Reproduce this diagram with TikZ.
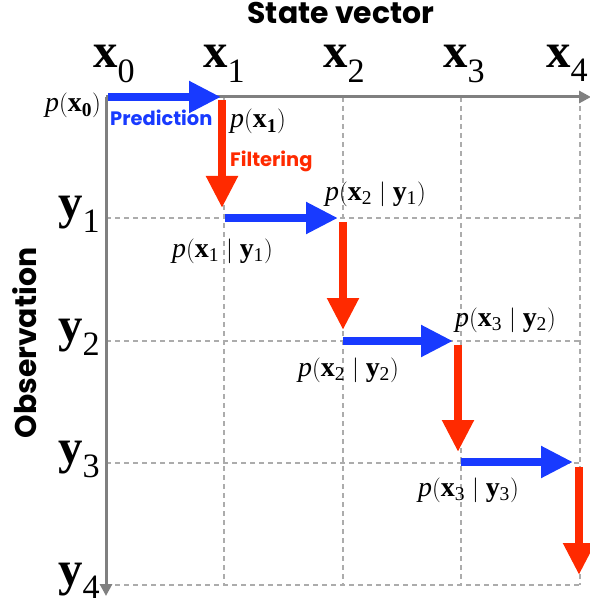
\documentclass[tikz,border=0pt]{standalone}
\usepackage{fontspec}
\setmainfont{Liberation Serif}
\setsansfont{Poppins}
\usetikzlibrary{arrows.meta}
\definecolor{predblue}{RGB}{24,58,255}
\definecolor{filtred}{RGB}{255,42,0}
\definecolor{axisgray}{RGB}{128,128,128}
\definecolor{gridgray}{RGB}{172,172,172}
\newcommand{\vx}[1]{\mathbf{x}_{\mathrm{#1}}}
\newcommand{\vy}[1]{\mathbf{y}_{\mathrm{#1}}}
\newcommand{\cnd}{\mid}
\begin{document}
\begin{tikzpicture}[x=1bp,y=-1bp,
  axisline/.style={draw=axisgray, line width=3bp, -{Triangle[length=12bp,width=12bp]}},
  gridline/.style={draw=gridgray, line width=1.6bp, dash pattern=on 5bp off 4bp},
  predarrow/.style={draw=predblue, line width=8bp, -{Triangle[length=32bp,width=30bp]}},
  filtarrow/.style={draw=filtred, line width=8bp, -{Triangle[length=32bp,width=30bp]}},
  bigmath/.style={font=\fontsize{49}{49}\selectfont, inner sep=0pt, anchor=base west},
  plabel/.style={font=\fontsize{28}{28}\selectfont, inner sep=0pt, anchor=base west},
  sanslabel/.style={font=\sffamily\bfseries\fontsize{19.5}{19.5}\selectfont, inner sep=0pt, anchor=base west},
  titlelabel/.style={font=\sffamily\bfseries\fontsize{30}{30}\selectfont, inner sep=0pt}]
\useasboundingbox (0,0) rectangle (590,610);
% grid coordinates
\coordinate (o) at (106,97);
\coordinate (xend) at (591,97);
\coordinate (yend) at (106,596);
\foreach \i/\xx in {1/224,2/343,3/461,4/580}{
  \coordinate (ct\i) at (\xx,97);
  \coordinate (cb\i) at (\xx,585);
}
\foreach \j/\yy in {1/218,2/341,3/463,4/585}{
  \coordinate (rl\j) at (106,\yy);
  \coordinate (rr\j) at (580,\yy);
}
% dashed grid
\foreach \i in {1,2,3,4}{
  \draw[gridline] (ct\i) -- (cb\i);
  \draw[gridline] (rl\i) -- (rr\i);
}
\draw[gridline] (o) -- (rl4);
% axes
\draw[axisline] (o) -- (xend);
\draw[axisline] (o) -- (yend);
% arrow end points
\coordinate (b1s) at (108,97);  \coordinate (b1e) at (221,97);
\coordinate (r1s) at (222,100); \coordinate (r1e) at (222,208);
\coordinate (b2s) at (225,218); \coordinate (b2e) at (338,218);
\coordinate (r2s) at (343,222); \coordinate (r2e) at (343,330);
\coordinate (b3s) at (343,341); \coordinate (b3e) at (453,341);
\coordinate (r3s) at (458,345); \coordinate (r3e) at (458,452);
\coordinate (b4s) at (461,462); \coordinate (b4e) at (573,462);
\coordinate (r4s) at (579,467); \coordinate (r4e) at (579,575);
\draw[predarrow] (b1s) -- (b1e);
\draw[filtarrow] (r1s) -- (r1e);
\draw[predarrow] (b2s) -- (b2e);
\draw[filtarrow] (r2s) -- (r2e);
\draw[predarrow] (b3s) -- (b3e);
\draw[filtarrow] (r3s) -- (r3e);
\draw[predarrow] (b4s) -- (b4e);
\draw[filtarrow] (r4s) -- (r4e);
% titles
\node[titlelabel, anchor=base] (title) at (341,24) {State vector};
\node[titlelabel, rotate=90, anchor=center] (obs) at (25,343) {Observation};
% state labels
\node[bigmath] (x0) at (93,68) {$\vx{0}$};
\node[bigmath] (x1) at (203,68) {$\vx{1}$};
\node[bigmath] (x2) at (323,68) {$\vx{2}$};
\node[bigmath] (x3) at (443,68) {$\vx{3}$};
\node[bigmath] (x4) at (546,68) {$\vx{4}$};
% observation labels
\node[bigmath] (y1) at (58,218) {$\vy{1}$};
\node[bigmath] (y2) at (58,341) {$\vy{2}$};
\node[bigmath] (y3) at (58,463) {$\vy{3}$};
\node[bigmath] (y4) at (58,585) {$\vy{4}$};
% distribution labels
\node[plabel, anchor=base east] (px0) at (101,112) {$\mathit{p}(\mathbf{x_0})$};
\node[plabel] (px1) at (230,128) {$\mathit{p}(\mathbf{x_1})$};
\node[plabel] (px2y1) at (325,200) {$\mathit{p}(\vx{2}\cnd\vy{1})$};
\node[plabel] (px1y1) at (172,257) {$\mathit{p}(\vx{1}\cnd\vy{1})$};
\node[plabel] (px3y2) at (455,326) {$\mathit{p}(\vx{3}\cnd\vy{2})$};
\node[plabel] (px2y2) at (298,376) {$\mathit{p}(\vx{2}\cnd\vy{2})$};
\node[plabel] (px3y3) at (418,496) {$\mathit{p}(\vx{3}\cnd\vy{3})$};
% step labels
\node[sanslabel, text=predblue] (pred) at (110,126) {Prediction};
\node[sanslabel, text=filtred] (filt) at (230,167) {Filtering};
\end{tikzpicture}
\end{document}
